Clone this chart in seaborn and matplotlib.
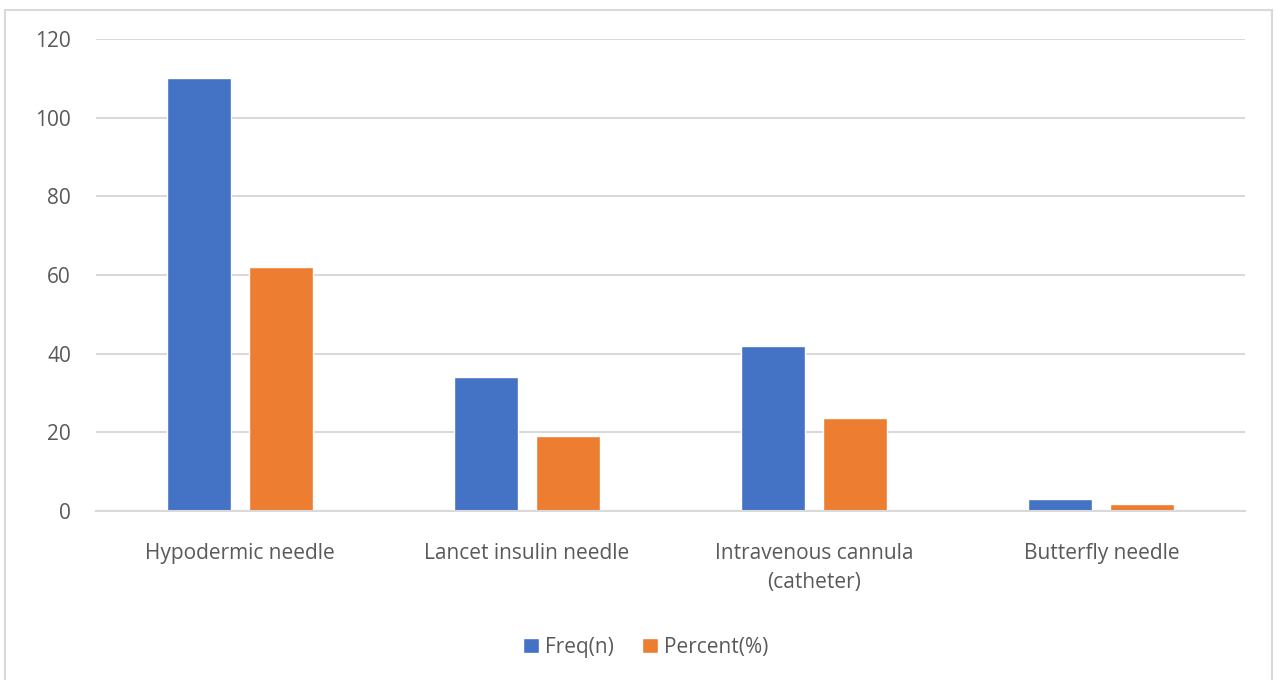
import matplotlib
matplotlib.use("Agg")
import matplotlib.pyplot as plt
from matplotlib.patches import Rectangle
import seaborn as sns
import pandas as pd

categories = ["Hypodermic needle", "Lancet insulin needle",
              "Intravenous cannula\n(catheter)", "Butterfly needle"]
freq_n = [110, 34, 42, 3]
percent = [62.1, 19.2, 23.7, 1.7]
series_names = ["Freq(n)", "Percent(%)"]
y_ticks = [0, 20, 40, 60, 80, 100, 120]

colors = ["#4472C4", "#ED7D31"]
text_color = "#595959"
grid_color = "#D9D9D9"

sns.set_theme(style="white")
plt.rcParams["font.family"] = ["Open Sans", "DejaVu Sans"]

df = pd.DataFrame({
    "category": categories * 2,
    "series": [series_names[0]] * len(categories) + [series_names[1]] * len(categories),
    "value": freq_n + percent,
})

fig = plt.figure(figsize=(12.75, 6.8), dpi=100)
ax = fig.add_axes([0.0753, 0.2485, 0.9012, 0.6941])

sns.barplot(data=df, x="category", y="value", hue="series", order=categories,
            hue_order=series_names, palette=colors, width=0.571, gap=0.22,
            saturation=1, ax=ax, legend=True)

ax.set_xlim(-0.5, len(categories) - 0.5)
ax.set_ylim(0, 120)
ax.set_yticks(y_ticks)
ax.yaxis.grid(True, color=grid_color, linewidth=1.5)
ax.set_axisbelow(True)
for side in ["top", "right", "left"]:
    ax.spines[side].set_visible(False)
ax.spines["bottom"].set_color(grid_color)
ax.spines["bottom"].set_linewidth(1.5)
ax.set_xlabel("")
ax.set_ylabel("")
ax.tick_params(axis="both", length=0, labelsize=15, labelcolor=text_color)
ax.tick_params(axis="x", pad=23)
ax.tick_params(axis="y", pad=18)
for lbl in ax.get_xticklabels():
    lbl.set_linespacing(1.5)

leg = ax.legend(loc="center", ncol=2, frameon=False,
                fontsize=15, handlelength=0.75, handleheight=0.75,
                handletextpad=0.3, columnspacing=1.35)
for t in leg.get_texts():
    t.set_color(text_color)
leg.set_bbox_to_anchor((646 / 1275, 1 - 647 / 680), transform=fig.transFigure)

# light chart-area frame
fig.add_artist(Rectangle((5 / 1275, -0.01), 1267 / 1275, 1 - 10 / 680 + 0.01,
                         transform=fig.transFigure, fill=False,
                         edgecolor=grid_color, linewidth=1.5))

fig.savefig("out.png", dpi=100, facecolor="white")
